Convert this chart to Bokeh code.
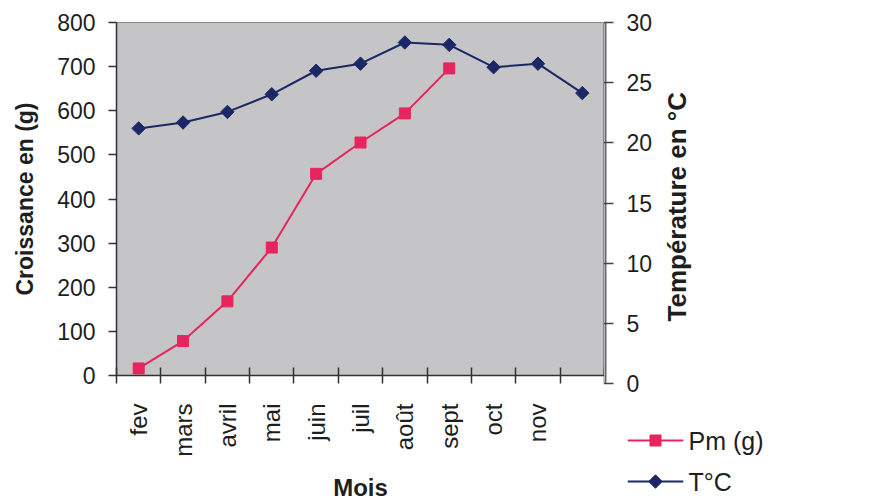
import math
from bokeh.plotting import figure
from bokeh.layouts import row, column
from bokeh.models import (Range1d, LinearAxis, FixedTicker)
from bokeh.embed import file_html
from bokeh.resources import INLINE

# ---- data ----
mois = ["fev", "mars", "avril", "mai", "juin", "juil", "août", "sept", "oct", "nov", ""]
pm_g = [16, 78, 168, 290, 457, 528, 594, 696]
temp_c = [21.0, 21.5, 22.4, 23.9, 25.9, 26.5, 28.3, 28.1, 26.2, 26.5, 24.0]
y_left_ticks = [0, 100, 200, 300, 400, 500, 600, 700, 800]
y_right_ticks = [0, 5, 10, 15, 20, 25, 30]
series_names = ["Pm (g)", "T°C"]
right_title = "Température en °C"

PINK = "#e8245e"
NAVY = "#1c2766"
FONT = "Liberation Sans"
TXT = "#1e1e1e"

n = len(mois)
x_pos = [i + 0.5 for i in range(n)]
temp_range = (y_right_ticks[0], y_right_ticks[-1])


def no_align(fig):
    try:
        fig.frame_align = False
    except AttributeError:
        pass


# ---------------- main panel: plot area, left and bottom axes ----------------
p = figure(width=604, height=503, output_backend="svg", toolbar_location=None,
           x_range=Range1d(0, n), y_range=Range1d(0, 800),
           min_border_left=116, min_border_right=0, min_border_top=22,
           min_border_bottom=120)
no_align(p)
p.border_fill_color = "white"
p.background_fill_color = "#c5c5c7"
p.outline_line_color = "#8a8a8a"
p.outline_line_width = 1
p.xgrid.visible = False
p.ygrid.visible = False
p.extra_y_ranges = {"temp": Range1d(*temp_range)}

xa = p.xaxis[0]
xa.ticker = FixedTicker(ticks=x_pos, minor_ticks=list(range(n + 1)))
xa.major_label_overrides = {x: lab for x, lab in zip(x_pos, mois)}
xa.major_tick_in = 0
xa.major_tick_out = 0
xa.minor_tick_in = 8
xa.minor_tick_out = 8
xa.minor_tick_line_color = "#333333"
xa.minor_tick_line_width = 1.5
xa.major_label_orientation = math.pi / 2
xa.major_label_standoff = 20
xa.major_label_text_font = FONT
xa.major_label_text_font_size = "24px"
xa.major_label_text_color = TXT
xa.axis_line_color = "#333333"
xa.axis_line_width = 1.5
xa.axis_label = "Mois"
xa.axis_label_text_font = FONT
xa.axis_label_text_font_style = "bold"
xa.axis_label_text_font_size = "24px"
xa.axis_label_text_color = TXT
xa.axis_label_standoff = 14

ya = p.yaxis[0]
ya.ticker = FixedTicker(ticks=y_left_ticks, minor_ticks=[])
ya.major_tick_in = 0
ya.major_tick_out = 8
ya.major_tick_line_color = "#333333"
ya.major_tick_line_width = 1.5
ya.minor_tick_line_color = None
ya.major_label_standoff = 13
ya.major_label_text_font = FONT
ya.major_label_text_font_size = "23px"
ya.major_label_text_color = TXT
ya.axis_line_color = "#333333"
ya.axis_line_width = 1.5
ya.axis_label = "Croissance en (g)"
ya.axis_label_text_font = FONT
ya.axis_label_text_font_style = "bold"
ya.axis_label_text_font_size = "23px"
ya.axis_label_text_color = TXT
ya.axis_label_standoff = 16

pm_x = x_pos[:len(pm_g)]
p.line(pm_x, pm_g, line_color=PINK, line_width=2)
p.scatter(pm_x, pm_g, marker="square", size=11, fill_color=PINK, line_color=PINK)
p.line(x_pos, temp_c, line_color=NAVY, line_width=2, y_range_name="temp")
p.scatter(x_pos, temp_c, marker="square", angle=math.pi / 4, size=9.5,
          fill_color=NAVY, line_color=NAVY, y_range_name="temp")

# ---------------- right panel: temperature axis ----------------
pr = figure(width=280, height=403, output_backend="svg", toolbar_location=None,
            x_range=Range1d(0, 1), y_range=Range1d(*temp_range),
            x_axis_type=None, y_axis_type=None,
            min_border_left=0, min_border_right=279, min_border_top=22,
            min_border_bottom=20)
no_align(pr)
pr.border_fill_color = "white"
pr.background_fill_color = "white"
pr.outline_line_color = None
pr.xgrid.visible = False
pr.ygrid.visible = False

ra = LinearAxis(ticker=FixedTicker(ticks=y_right_ticks, minor_ticks=[]))
ra.major_tick_in = 4
ra.major_tick_out = 8
ra.major_tick_line_color = "#444444"
ra.major_tick_line_width = 1.5
ra.minor_tick_line_color = None
ra.major_label_standoff = 13
ra.major_label_text_font = FONT
ra.major_label_text_font_size = "23px"
ra.major_label_text_color = TXT
ra.axis_line_color = "#6a6a6a"
ra.axis_line_width = 2
pr.add_layout(ra, "right")

# axis title drawn bottom-to-top as one rotated label (anchored at its start)
title_anchor = 5.15
rt = LinearAxis(ticker=FixedTicker(ticks=[title_anchor], minor_ticks=[]))
rt.major_label_overrides = {title_anchor: right_title}
rt.major_label_orientation = math.pi / 2
rt.major_tick_in = 0
rt.major_tick_out = 0
rt.minor_tick_line_color = None
rt.axis_line_color = None
rt.major_label_standoff = 22
rt.major_label_text_font = FONT
rt.major_label_text_font_style = "bold"
rt.major_label_text_font_size = "26px"
rt.major_label_text_color = TXT
pr.add_layout(rt, "right")

# ---------------- legend panel: sample glyphs + labels on an axis ----------------
legend_rows = [63, 22]          # vertical slots of the two legend entries
pl = figure(width=280, height=100, output_backend="svg", toolbar_location=None,
            x_range=Range1d(0, 1), y_range=Range1d(0, 100),
            x_axis_type=None, y_axis_type=None,
            min_border_left=23, min_border_right=201, min_border_top=0,
            min_border_bottom=0)
no_align(pl)
pl.border_fill_color = "white"
pl.background_fill_color = "white"
pl.outline_line_color = None
pl.xgrid.visible = False
pl.ygrid.visible = False

pl.segment(x0=[0], y0=[legend_rows[0]], x1=[1], y1=[legend_rows[0]],
           line_color=PINK, line_width=2)
pl.scatter([0.5], [legend_rows[0]], marker="square", size=11,
           fill_color=PINK, line_color=PINK)
pl.segment(x0=[0], y0=[legend_rows[1]], x1=[1], y1=[legend_rows[1]],
           line_color=NAVY, line_width=2)
pl.scatter([0.5], [legend_rows[1]], marker="square", angle=math.pi / 4, size=9.5,
           fill_color=NAVY, line_color=NAVY)

la = LinearAxis(ticker=FixedTicker(ticks=legend_rows, minor_ticks=[]))
la.major_label_overrides = {r: s for r, s in zip(legend_rows, series_names)}
la.major_tick_in = 0
la.major_tick_out = 0
la.minor_tick_line_color = None
la.axis_line_color = None
la.major_label_standoff = 5
la.major_label_text_font = FONT
la.major_label_text_font_size = "25px"
la.major_label_text_color = TXT
pl.add_layout(la, "right")

layout = row(p, column(pr, pl, spacing=0), spacing=0)
open("out.html", "w").write(file_html(layout, INLINE))
